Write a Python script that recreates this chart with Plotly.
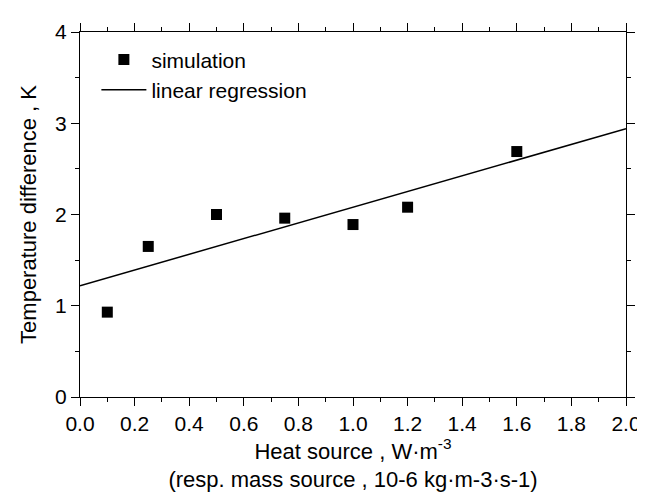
import plotly.graph_objects as go

# Data
sim_x = [0.1, 0.25, 0.5, 0.75, 1.0, 1.2, 1.6]
sim_y = [0.93, 1.65, 2.00, 1.96, 1.89, 2.08, 2.69]
reg_x = [0.0, 2.0]
reg_y = [1.22, 2.94]

x_ticks = [0.0, 0.2, 0.4, 0.6, 0.8, 1.0, 1.2, 1.4, 1.6, 1.8, 2.0]
x_ticklabels = ["0.0", "0.2", "0.4", "0.6", "0.8", "1.0", "1.2", "1.4", "1.6", "1.8", "2.0"]
y_ticks = [0, 1, 2, 3, 4]

font = "Liberation Sans, Arial, sans-serif"

fig = go.Figure()
fig.add_trace(go.Scatter(x=sim_x, y=sim_y, mode="markers", name="simulation",
                         marker=dict(symbol="square", size=11, color="black")))
fig.add_trace(go.Scatter(x=reg_x, y=reg_y, mode="lines", name="linear regression",
                         line=dict(color="black", width=1.5)))

axis_common = dict(showline=True, linecolor="black", linewidth=1.3, mirror="ticks",
                   ticks="outside", ticklen=8, tickwidth=1.3, tickcolor="black",
                   showgrid=False, zeroline=False,
                   tickfont=dict(family=font, size=21, color="black"))

fig.update_xaxes(range=[0, 2], tickvals=x_ticks, ticktext=x_ticklabels,
                 minor=dict(dtick=0.1, ticks="outside", ticklen=4, tickwidth=1.3, tickcolor="black"),
                 title=dict(text="Heat source , W·m<sup>-3</sup><br>(resp. mass source , 10-6 kg·m-3·s-1)",
                            font=dict(family=font, size=22, color="black"), standoff=6),
                 **axis_common)
fig.update_yaxes(range=[0, 4], tickvals=y_ticks,
                 minor=dict(dtick=0.5, ticks="outside", ticklen=4, tickwidth=1.3, tickcolor="black"),
                 title=dict(text="Temperature difference , K",
                            font=dict(family=font, size=22, color="black"), standoff=12),
                 **axis_common)

fig.update_layout(
    width=645, height=492,
    margin=dict(l=72, r=15, t=17, b=103),
    plot_bgcolor="white", paper_bgcolor="white",
    showlegend=True,
    legend=dict(x=0.03, y=0.98, xanchor="left", yanchor="top",
                bgcolor="rgba(0,0,0,0)", font=dict(family=font, size=21, color="black"),
                itemwidth=45),
    font=dict(family=font, color="black"),
)

fig.write_html("out.html")
